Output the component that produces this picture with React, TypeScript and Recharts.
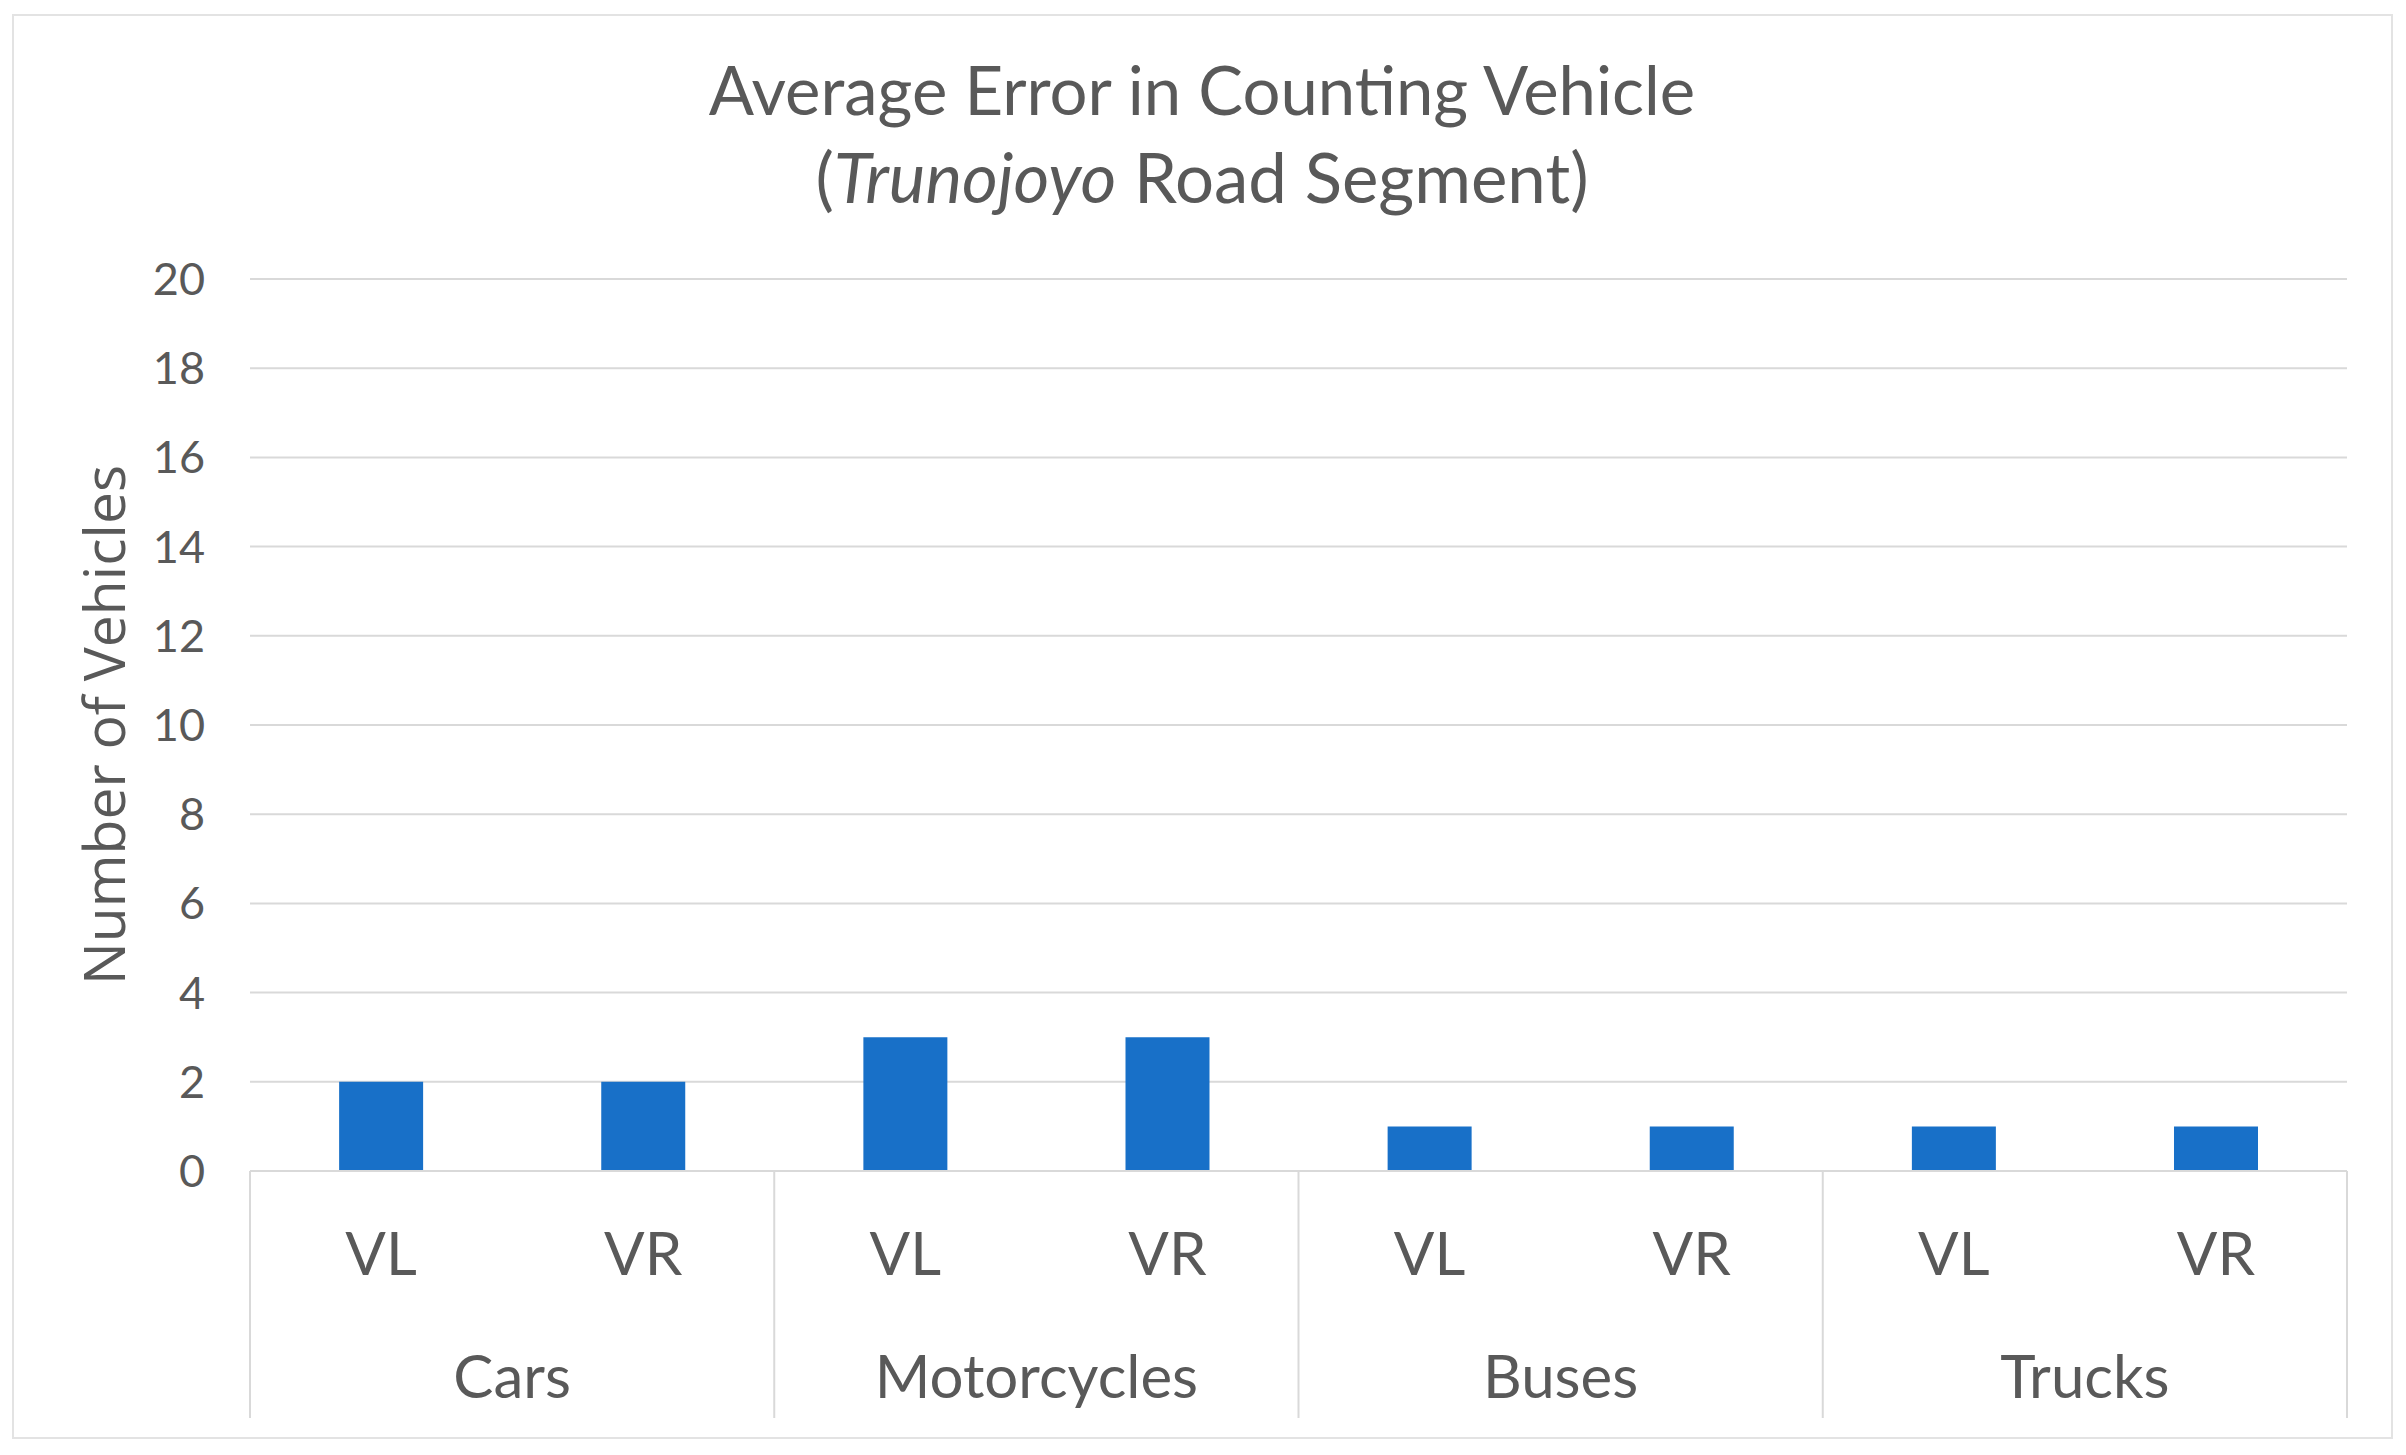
import React from 'react';
import { BarChart, Bar, XAxis, YAxis, CartesianGrid } from 'recharts';

const CATEGORIES = ['Cars', 'Motorcycles', 'Buses', 'Trucks'];
const SUBS = ['VL', 'VR'];
const CARS = [2, 2];
const MOTORCYCLES = [3, 3];
const BUSES = [1, 1];
const TRUCKS = [1, 1];
const Y_TICKS = [0, 2, 4, 6, 8, 10, 12, 14, 16, 18, 20];

const SERIES = [CARS, MOTORCYCLES, BUSES, TRUCKS];
const rows = CATEGORIES.flatMap((cat, ci) =>
  SUBS.map((sub, si) => ({ cat, sub, value: SERIES[ci][si] }))
);

const W = 2406;
const H = 1455;
const M_TOP = 279;
const M_RIGHT = 59;
const Y_AXIS_W = 250;
const X_AXIS_H = 247;
const M_BOTTOM = H - 1171 - X_AXIS_H;
const PLOT_W = W - Y_AXIS_W - M_RIGHT;

const TEXT = '#595959';
const GRID = '#D9D9D9';
const FONT = 'Lato, "Open Sans", sans-serif';

const XTick = (props: any) => {
  const { x, y, payload } = props;
  const index = payload && typeof payload.index === 'number' ? payload.index : props.index;
  const row = rows[index];
  const slot = PLOT_W / rows.length;
  const isStart = index % SUBS.length === 0;
  const isLast = index === rows.length - 1;
  const groupW = slot * SUBS.length;
  return (
    <g>
      <text
        x={x}
        y={y + 81}
        textAnchor="middle"
        dominantBaseline="central"
        fill={TEXT}
        fontFamily={FONT}
        fontSize={60}
      >
        {row ? row.sub : payload.value}
      </text>
      {isStart && (
        <line x1={x - slot / 2} x2={x - slot / 2} y1={y} y2={y + X_AXIS_H} stroke={GRID} strokeWidth={2} />
      )}
      {isStart && row && (
        <text
          x={x - slot / 2 + groupW / 2}
          y={y + 204}
          textAnchor="middle"
          dominantBaseline="central"
          fill={TEXT}
          fontFamily={FONT}
          fontSize={60}
        >
          {row.cat}
        </text>
      )}
      {isLast && (
        <line x1={x + slot / 2} x2={x + slot / 2} y1={y} y2={y + X_AXIS_H} stroke={GRID} strokeWidth={2} />
      )}
    </g>
  );
};

export default function App() {
  return (
    <div style={{ position: 'absolute', left: 0, top: 0, width: W, height: H, background: '#fff' }}>
      <div
        style={{
          position: 'absolute',
          left: 12,
          top: 14,
          width: 2393 - 12,
          height: 1439 - 14,
          border: '2px solid #E3E3E3',
          boxSizing: 'border-box',
        }}
      />
      <BarChart
        width={W}
        height={H}
        data={rows}
        margin={{ top: M_TOP, right: M_RIGHT, bottom: M_BOTTOM, left: 0 }}
        barCategoryGap="34%"
      >
        <CartesianGrid vertical={false} stroke={GRID} strokeWidth={2} />
        <XAxis
          dataKey="sub"
          interval={0}
          height={X_AXIS_H}
          tickLine={false}
          tickSize={0}
          tickMargin={0}
          axisLine={{ stroke: GRID, strokeWidth: 2 }}
          tick={<XTick />}
        />
        <YAxis
          width={Y_AXIS_W}
          domain={[0, 20]}
          ticks={Y_TICKS}
          interval={0}
          axisLine={false}
          tickLine={false}
          tickSize={6}
          tickMargin={39}
          tick={{ fill: TEXT, fontFamily: FONT, fontSize: 45 }}
          label={{
            value: 'Number of Vehicles',
            angle: -90,
            position: 'insideLeft',
            offset: 105,
            style: { textAnchor: 'middle', fill: TEXT, fontFamily: '"Open Sans", sans-serif', fontSize: 57 },
          }}
        />
        <Bar dataKey="value" fill="#1870C8" isAnimationActive={false} />
      </BarChart>
      <svg
        width={W}
        height={260}
        style={{ position: 'absolute', left: 0, top: 0, pointerEvents: 'none' }}
      >
        <text x={1202} y={115} textAnchor="middle" fill={TEXT} fontFamily={FONT} fontSize={67}>
          Average Error in Counting Vehicle
        </text>
        <text x={1202} y={203} textAnchor="middle" fill={TEXT} fontFamily={FONT} fontSize={69}>
          (<tspan fontStyle="italic">Trunojoyo</tspan> Road Segment)
        </text>
      </svg>
    </div>
  );
}
